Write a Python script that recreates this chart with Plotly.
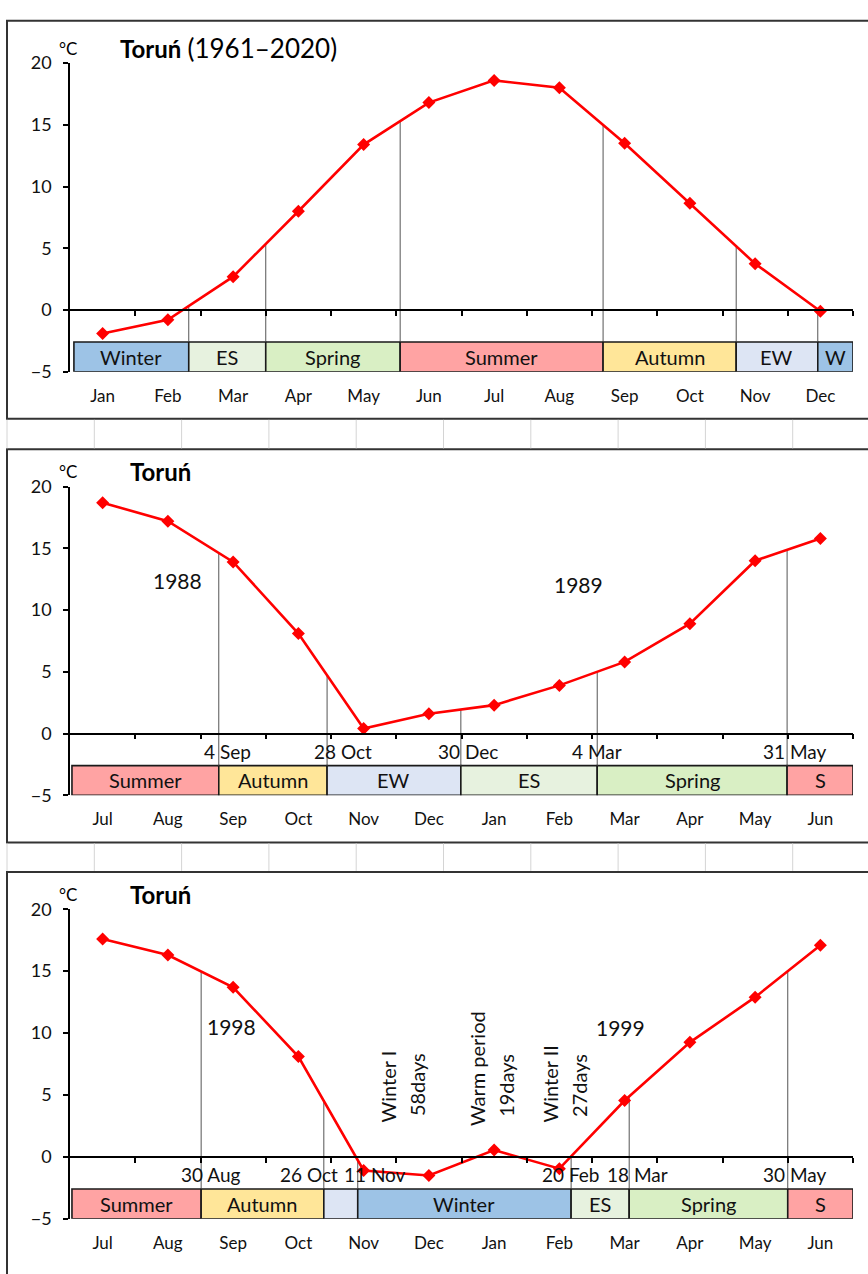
import numpy as np
import plotly.graph_objects as go

W, H = 868, 1274

# ---------------- data ----------------
months_cal = ["Jan", "Feb", "Mar", "Apr", "May", "Jun", "Jul", "Aug", "Sep", "Oct", "Nov", "Dec"]
months_hyd = ["Jul", "Aug", "Sep", "Oct", "Nov", "Dec", "Jan", "Feb", "Mar", "Apr", "May", "Jun"]

temp_1961_2020 = [-1.9, -0.8, 2.7, 8.0, 13.4, 16.8, 18.6, 18.0, 13.5, 8.65, 3.75, -0.1]
temp_1988_1989 = [18.7, 17.2, 13.9, 8.1, 0.4, 1.6, 2.3, 3.9, 5.8, 8.9, 14.0, 15.8]
temp_1998_1999 = [17.6, 16.3, 13.7, 8.1, -1.1, -1.5, 0.55, -0.95, 4.55, 9.25, 12.9, 17.1]

# season boundaries in month-index units (0 = first month centre)
bounds_1961_2020 = [-0.44, 1.32, 2.50, 4.56, 7.67, 9.71, 10.96, 11.5]
seasons_1961_2020 = ["Winter", "ES", "Spring", "Summer", "Autumn", "EW", "W"]
kinds_1961_2020 = ["winter", "es", "spring", "summer", "autumn", "ew", "winter"]
vlines_1961_2020 = [1.32, 2.50, 4.56, 7.67, 9.71, 10.96]

bounds_1988_1989 = [-0.47, 1.78, 3.44, 5.49, 7.58, 10.49, 11.5]
seasons_1988_1989 = ["Summer", "Autumn", "EW", "ES", "Spring", "S"]
kinds_1988_1989 = ["summer", "autumn", "ew", "es", "spring", "summer"]
vlines_1988_1989 = [1.78, 3.44, 5.49, 7.58, 10.49]
dates_1988_1989 = ["4 Sep", "28 Oct", "30 Dec", "4 Mar", "31 May"]
dates_x_1988_1989 = [1.92, 3.68, 5.60, 7.58, 10.61]
years_1988_1989 = ["1988", "1989"]
years_x_1988_1989 = [1.15, 7.29]
years_y_1988_1989 = [12.4, 12.1]

bounds_1998_1999 = [-0.47, 1.51, 3.39, 3.91, 7.18, 8.07, 10.50, 11.5]
seasons_1998_1999 = ["Summer", "Autumn", "", "Winter", "ES", "Spring", "S"]
kinds_1998_1999 = ["summer", "autumn", "ew", "winter", "es", "spring", "summer"]
vlines_1998_1999 = [1.51, 3.39, 3.91, 7.18, 8.07, 10.50]
dates_1998_1999 = ["30 Aug", "26 Oct", "11 Nov", "20 Feb", "18 Mar", "30 May"]
dates_x_1998_1999 = [1.65, 3.16, 4.17, 7.18, 8.20, 10.61]
years_1998_1999 = ["1998", "1999"]
years_x_1998_1999 = [1.97, 7.93]
years_y_1998_1999 = [10.5, 10.45]
periods_text = ["Winter I", "58days", "Warm period", "19days", "Winter II", "27days"]
periods_x = [4.37, 4.82, 5.74, 6.18, 6.86, 7.30]
periods_y = [2.6, 3.1, 2.3, 3.1, 2.6, 3.1]

season_colors = {
    "winter": "#9dc3e6",
    "es": "#e7f2df",
    "spring": "#d9efc4",
    "summer": "#ffa3a3",
    "autumn": "#ffe699",
    "ew": "#dde5f4",
}

y_ticks = [-5, 0, 5, 10, 15, 20]
y_ticktext = ["\u22125", "0", "5", "10", "15", "20"]
grid_vals = [5, 15]

FONT = "Lato, 'Open Sans', sans-serif"

# ---------------- layout geometry (pixels) ----------------
X_LEFT, X_RIGHT = 70, 853
panel_px = [(52, 366), (483, 797), (913, 1228)]   # rows of y=20 and y=-5
frame_px = [(9, 414), (445, 845), (875, 1290)]
BAR_LO, BAR_HI = -5.0, -2.6
DATE_Y = -1.45


def py(p):
    return 1 - p / H


def px(p):
    return p / W


panels = [
    dict(cats=months_cal, temps=temp_1961_2020, bounds=bounds_1961_2020, seasons=seasons_1961_2020,
         kinds=kinds_1961_2020, vlines=vlines_1961_2020, dates=[], dates_x=[], years=[], years_x=[], years_y=[],
         title="<b>Toruń</b> <span style='font-size:26px'>(1961–2020)</span>", title_x=118),
    dict(cats=months_hyd, temps=temp_1988_1989, bounds=bounds_1988_1989, seasons=seasons_1988_1989,
         kinds=kinds_1988_1989, vlines=vlines_1988_1989, dates=dates_1988_1989, dates_x=dates_x_1988_1989,
         years=years_1988_1989, years_x=years_x_1988_1989, years_y=years_y_1988_1989,
         title="<b>Toruń</b>", title_x=128),
    dict(cats=months_hyd, temps=temp_1998_1999, bounds=bounds_1998_1999, seasons=seasons_1998_1999,
         kinds=kinds_1998_1999, vlines=vlines_1998_1999, dates=dates_1998_1999, dates_x=dates_x_1998_1999,
         years=years_1998_1999, years_x=years_x_1998_1999, years_y=years_y_1998_1999,
         title="<b>Toruń</b>", title_x=128),
]

fig = go.Figure()
annotations = []
shapes = []
layout_axes = {}

for i, p in enumerate(panels):
    k = i + 1
    xs = "" if k == 1 else str(k)
    xa, ya = "x" + xs, "y" + xs
    xm = "x" + str(k + 3)
    idx = np.arange(len(p["cats"]))
    top_px, bot_px = panel_px[i]
    dom_y = [py(bot_px), py(top_px)]
    zero_pos = dom_y[0] + (0 - (-5)) / 25 * (dom_y[1] - dom_y[0])

    # season bar (horizontal bars)
    b = np.array(p["bounds"])
    starts, widths = b[:-1], np.diff(b)
    fig.add_trace(go.Bar(
        orientation="h", base=starts, x=widths, y=[(BAR_LO + BAR_HI) / 2] * len(starts),
        width=BAR_HI - BAR_LO,
        marker=dict(color=[season_colors[s] for s in p["kinds"]], line=dict(color="#1a1a1a", width=1.6)),
        xaxis=xa, yaxis=ya, hoverinfo="skip", showlegend=False))
    for s, c in zip(p["seasons"], (starts + b[1:]) / 2):
        if s:
            annotations.append(dict(x=c, y=(BAR_LO + BAR_HI) / 2, xref=xa, yref=ya, text=s, showarrow=False,
                                    font=dict(size=20, color="#111", family=FONT)))

    # thin vertical lines from the curve down to the season bar
    vx, vy = [], []
    for v in p["vlines"]:
        t = float(np.interp(v, idx, p["temps"]))
        vx += [v, v, None]
        vy += [t, BAR_HI, None]
    fig.add_trace(go.Scatter(x=vx, y=vy, mode="lines", line=dict(color="#555", width=1),
                             xaxis=xa, yaxis=ya, hoverinfo="skip", showlegend=False))

    # temperature curve
    fig.add_trace(go.Scatter(x=idx, y=p["temps"], mode="lines+markers",
                             line=dict(color="#ff0000", width=2.6),
                             marker=dict(symbol="diamond", size=10, color="#ff0000"),
                             xaxis=xa, yaxis=ya, hoverinfo="skip", showlegend=False))
    # invisible carrier so the month-label axis is drawn
    fig.add_trace(go.Scatter(x=idx, y=p["temps"], mode="markers", marker=dict(opacity=0),
                             xaxis=xm, yaxis=ya, hoverinfo="skip", showlegend=False))

    # date and year labels
    for d, dx in zip(p["dates"], p["dates_x"]):
        annotations.append(dict(x=dx, y=DATE_Y, xref=xa, yref=ya, text=d, showarrow=False,
                                font=dict(size=19, color="#111", family=FONT)))
    for yt, yx, yy in zip(p["years"], p["years_x"], p["years_y"]):
        annotations.append(dict(x=yx, y=yy, xref=xa, yref=ya, text=yt, showarrow=False,
                                font=dict(size=21, color="#111", family=FONT)))

    # title and unit
    annotations.append(dict(x=px(p["title_x"]), y=py(top_px - 15), xref="paper", yref="paper",
                            xanchor="left", yanchor="middle", text=p["title"], showarrow=False,
                            font=dict(size=24, color="#000", family=FONT)))
    annotations.append(dict(x=px(68), y=py(top_px - 15), xref="paper", yref="paper",
                            xanchor="center", yanchor="middle", text="°C", showarrow=False,
                            font=dict(size=17, color="#000", family=FONT)))

    # axes
    dom_x = [px(X_LEFT), px(X_RIGHT)]
    n = len(p["cats"])
    layout_axes["xaxis" + xs] = dict(
        domain=dom_x, range=[-0.5, n - 0.5], anchor="free", position=zero_pos,
        showline=True, linecolor="#000", linewidth=1.5,
        ticks="outside", tickvals=list(np.arange(n) + 0.5), ticklen=5, tickwidth=1.5, tickcolor="#000",
        showticklabels=False, showgrid=False, zeroline=False, fixedrange=True)
    layout_axes["xaxis" + str(k + 3)] = dict(
        domain=dom_x, range=[-0.5, n - 0.5], overlaying=xa, anchor=ya, side="bottom",
        tickmode="array", tickvals=list(idx), ticktext=p["cats"], ticks="", showticklabels=True,
        showline=False, showgrid=False, zeroline=False,
        tickfont=dict(size=17, color="#111", family=FONT), ticklabelstandoff=12, fixedrange=True)
    layout_axes["yaxis" + xs] = dict(
        domain=dom_y, range=[-5, 20], anchor=xa, showline=True, linecolor="#000", linewidth=1.5,
        ticks="outside", ticklen=5, tickwidth=1.5, tickcolor="#000",
        tickvals=y_ticks, ticktext=y_ticktext, showgrid=False, zeroline=False,
        tickfont=dict(size=18, color="#111", family=FONT), ticklabelstandoff=8, fixedrange=True)
    layout_axes["yaxis" + str(k + 3)] = dict(
        domain=dom_y, range=[-5, 20], overlaying=ya, anchor=xa, side="left",
        tickvals=grid_vals, showgrid=True, gridcolor="#000", gridwidth=1.5,
        showticklabels=False, ticks="", showline=False, zeroline=False, fixedrange=True)

# rotated period annotations in the bottom panel
for t, x, y in zip(periods_text, periods_x, periods_y):
    annotations.append(dict(x=x, y=y, xref="x3", yref="y3", text=t, textangle=-90, showarrow=False,
                            xanchor="center", yanchor="bottom", font=dict(size=20, color="#111", family=FONT)))

# chart frames and spreadsheet cell lines between them
for (t, b_) in frame_px:
    shapes.append(dict(type="rect", xref="paper", yref="paper", x0=px(7), x1=px(880), y0=py(b_), y1=py(t),
                       line=dict(color="#333", width=2), fillcolor="rgba(0,0,0,0)", layer="below"))
cell_cols = [7 + 87.3 * j for j in range(10)]
for (g0, g1) in [(415, 444), (846, 874)]:
    for cx in cell_cols:
        shapes.append(dict(type="line", xref="paper", yref="paper", x0=px(cx), x1=px(cx), y0=py(g1), y1=py(g0),
                           line=dict(color="#d4d4d4", width=1), layer="below"))

fig.update_layout(
    width=W, height=H, margin=dict(l=0, r=0, t=0, b=0),
    paper_bgcolor="#fff", plot_bgcolor="rgba(0,0,0,0)",
    showlegend=False, barmode="overlay",
    font=dict(family=FONT, color="#111"),
    annotations=annotations, shapes=shapes,
    **layout_axes,
)

post = (
    "document.documentElement.style.margin='0px';"
    "document.documentElement.style.overflow='hidden';"
    "document.body.style.margin='0px';document.body.style.padding='0px';"
    "document.body.style.overflow='hidden';"
    "var gd=document.getElementsByClassName('plotly-graph-div')[0];"
    "gd.style.position='fixed';gd.style.top='0px';gd.style.left='0px';"
)
fig.write_html("out.html", config={"displayModeBar": False}, post_script=post)
